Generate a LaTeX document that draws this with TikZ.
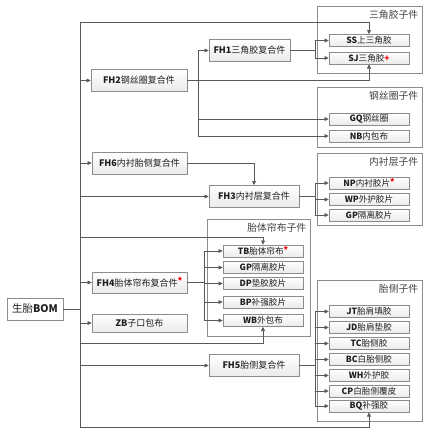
\documentclass[tikz,border=0pt]{standalone}
\usepackage{fontspec}
\setmainfont{Noto Sans CJK SC}
\usepackage{tikz}
\usetikzlibrary{arrows.meta,shadows}
\definecolor{linegray}{HTML}{595959}
\definecolor{boxgray}{HTML}{8C8C8C}
\definecolor{inkgray}{HTML}{1F1F1F}
\tikzset{
  wire/.style     = {draw=linegray,line width=0.7pt},
  link/.style     = {wire,-{Triangle[length=4.2pt,width=3.8pt]}},
  boxbase/.style  = {draw=boxgray,line width=0.6pt,inner sep=0pt,text=inkgray,
                     drop shadow={shadow xshift=0.9pt,shadow yshift=-0.9pt,fill=gray!45}},
  asmbox/.style   = {boxbase,top color=white,bottom color=gray!16,
                     minimum width=#1,minimum height=22pt,
                     font=\fontsize{9}{10}\selectfont},
  partbox/.style  = {boxbase,top color=white,bottom color=gray!16,
                     minimum width=80pt,minimum height=12pt,
                     font=\fontsize{8.6}{9}\selectfont},
  rootbox/.style  = {boxbase,fill=white,minimum width=56pt,minimum height=22pt,
                     font=\fontsize{10.5}{11}\selectfont},
  groupbox/.style = {draw=boxgray,line width=0.7pt,fill=white,
                     drop shadow={shadow xshift=0.6pt,shadow yshift=-0.6pt,fill=gray!35}},
  grouptag/.style = {anchor=north east,inner sep=0pt,text=inkgray!85,
                     font=\fontsize{9.8}{10}\selectfont}
}
\newcommand{\code}[1]{\textbf{#1}}
\newcommand{\flag}{\raisebox{0.35ex}{\color{red}\textbf{*}}}
\newcommand{\subpart}[4]{%
  \node[partbox] (#1) at (#2,#3) {#4};
}
\newcommand{\group}[6]{%
  \node[groupbox,minimum width=#4pt,minimum height=#5pt] (#1) at (#2,#3) {};
  \node[grouptag] (#1tag) at ([xshift=-4pt,yshift=-4pt]#1.north east) {#6};
}

\begin{document}
\begin{tikzpicture}[x=1pt,y=-1pt]
  \useasboundingbox (0,0) rectangle (427,434);
  % sub-part groups
  \group{gtri}{369.5}{39.5}{105}{67}{三角胶子件}
  \group{gbead}{369.5}{117}{105}{60}{钢丝圈子件}
  \group{gliner}{369.5}{189}{105}{72}{内衬层子件}
  \group{gply}{258.5}{277.5}{103}{117}{胎体帘布子件}
  \group{gside}{369.5}{350.5}{105}{141}{胎侧子件}

  % root and assemblies
  \node[rootbox] (bom) at (35,309) {生胎\code{BOM}};
  \node[asmbox=96pt] (fh2) at (139,80.5) {\code{FH2}钢丝圈复合件};
  \node[asmbox=95pt] (fh6) at (139.5,163) {\code{FH6}内衬胎侧复合件};
  \node[asmbox=95pt,minimum height=21pt] (fh4) at (139.5,282.5) {\code{FH4}胎体帘布复合件\flag};
  \node[asmbox=95pt,minimum height=18pt] (zb) at (139.5,323) {\code{ZB}子口包布};
  \node[asmbox=81pt] (fh1) at (249.5,50.5) {\code{FH1}三角胶复合件};
  \node[asmbox=90pt] (fh3) at (254,196.5) {\code{FH3}内衬层复合件};
  \node[asmbox=90pt] (fh5) at (254,365.5) {\code{FH5}胎侧复合件};

  % parts
  \subpart{ss}{369}{40.5}{\code{SS}上三角胶}
  \subpart{sj}{369}{58}{\code{SJ}三角胶{\color{red}\textbf{+}}}
  \subpart{gq}{369}{119}{\code{GQ}钢丝圈}
  \subpart{nb}{369}{136}{\code{NB}内包布}
  \subpart{np}{369}{183}{\code{NP}内衬胶片\flag}
  \subpart{wp}{369}{199.5}{\code{WP}外护胶片}
  \subpart{gp}{369}{215}{\code{GP}隔离胶片}
  \subpart{tb}{263}{251}{\code{TB}胎体帘布\flag}
  \subpart{gpb}{263}{267.5}{\code{GP}隔离胶片}
  \subpart{dp}{263}{283.5}{\code{DP}垫胶胶片}
  \subpart{bp}{263}{302}{\code{BP}补强胶片}
  \subpart{wb}{263}{320.5}{\code{WB}外包布}
  \subpart{jt}{369}{311.5}{\code{JT}胎肩填胶}
  \subpart{jd}{369}{327.5}{\code{JD}胎肩垫胶}
  \subpart{tc}{369}{343.5}{\code{TC}胎侧胶}
  \subpart{bc}{369}{359.5}{\code{BC}白胎侧胶}
  \subpart{wh}{369}{375.5}{\code{WH}外护胶}
  \subpart{cp}{369}{391}{\code{CP}白胎侧覆皮}
  \subpart{bq}{369}{406}{\code{BQ}补强胶}

  % trunk and taps
  \coordinate (trunk) at (80,22);
  \coordinate (trunkend) at (80,427);
  \coordinate (tbtap) at (80,237);
  \coordinate (wbtap) at (80,343);
  \coordinate (fh2fork) at (198,0);
  \coordinate (fh4fork) at (204,0);
  \coordinate (subfork) at (315,0);

  \draw[wire] (trunk) -- (trunkend);
  \draw[wire] (bom.east) -- (trunk |- bom.east);
  \draw[link] (trunk) -| (ss.north);
  \draw[link] (trunkend) -| (bq.south);
  \draw[link] (tbtap) -| (tb.north);
  \draw[link] (wbtap) -| (wb.south);
  \foreach \a in {fh2,fh6,fh4,zb}
    \draw[link] (trunk |- \a.west) -- (\a.west);
  \draw[link] (trunk |- fh3.west) -- (fh3.west);
  \draw[link] (trunk |- fh5.west) -- (fh5.west);
  \draw[link] (fh6.east) -| (fh3.north);

  % FH2 outputs
  \draw[link] (fh2.east) -| (sj.south);
  \foreach \p in {fh1,gq,nb}
    \draw[link] (fh2fork |- fh2.east) |- (\p.west);

  % forks into part groups
  \draw[wire] (fh1.east) -- (subfork |- fh1.east);
  \foreach \p in {ss,sj}
    \draw[link] (subfork |- fh1.east) |- (\p.west);
  \draw[wire] (fh3.east) -- (subfork |- fh3.east);
  \foreach \p in {np,wp,gp}
    \draw[link] (subfork |- fh3.east) |- (\p.west);
  \draw[wire] (fh4.east) -- (fh4fork |- fh4.east);
  \foreach \p in {tb,gpb,dp,bp,wb}
    \draw[link] (fh4fork |- fh4.east) |- (\p.west);
  \draw[wire] (fh5.east) -- (subfork |- fh5.east);
  \foreach \p in {jt,jd,tc,bc,wh,cp,bq}
    \draw[link] (subfork |- fh5.east) |- (\p.west);
\end{tikzpicture}
\end{document}
